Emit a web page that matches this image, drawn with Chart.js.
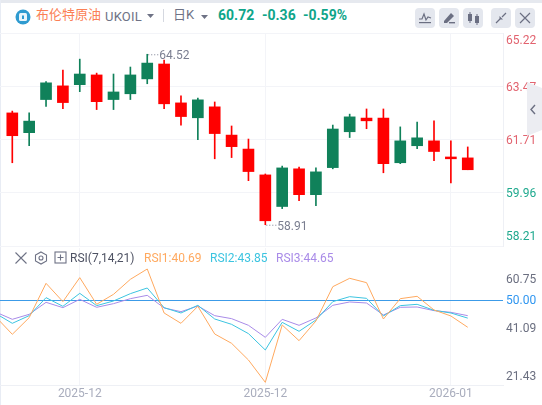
<!DOCTYPE html>
<html>
<head>
<meta charset="utf-8">
<script src="https://cdn.jsdelivr.net/npm/chart.js@4"></script>
<style>
  html, body { margin: 0; padding: 0; background: #fff; }
  body { width: 542px; height: 405px; position: relative; overflow: hidden; font-family: Roboto, "Noto Sans CJK SC", sans-serif; }
  canvas { position: absolute; left: 0; }
  .abs { position: absolute; white-space: nowrap; line-height: 16px; }
  .btn { position: absolute; top: 8px; width: 20px; height: 20px; border-radius: 4px; background: #e4e7ee; }
  .btn svg { display: block; }
</style>
</head>
<body>
<div class="abs" style="left:0;top:0;width:542px;height:2.5px;background:#e6e9ef"></div>
<div class="abs" style="left:0;top:0;width:1px;height:405px;background:#e8ecf4"></div>

<svg class="abs" style="left:15px;top:9px" width="16" height="16"><circle cx="8" cy="8" r="7.5" fill="#2f9bd0"/><rect x="4" y="4" width="8" height="8" rx="1.5" fill="#eaf5fb"/><rect x="7" y="6.5" width="2" height="3.5" fill="#2f9bd0"/></svg>
<div class="abs" style="left:36px;top:7px;font-size:13px;color:#fb7f55">布伦特原油</div>
<div class="abs" style="left:105px;top:9px;font-size:13px;letter-spacing:0.2px;color:#6e7285">UKOIL</div>
<svg class="abs" style="left:147px;top:14px" width="8" height="5"><path d="M0 0H7L3.5 4Z" fill="#6e7285"/></svg>
<div class="abs" style="left:163px;top:9px;width:1px;height:13px;background:#d5d8e0"></div>
<div class="abs" style="left:173px;top:7px;font-size:13px;color:#6e7285">日K</div>
<svg class="abs" style="left:201px;top:15px" width="8" height="5"><path d="M0 0H7L3.5 4Z" fill="#6e7285"/></svg>
<div class="abs" style="left:218px;top:7px;font-size:14px;font-weight:700;color:#0fa58a">60.72</div>
<div class="abs" style="left:262px;top:7px;font-size:14px;font-weight:700;color:#0fa58a">-0.36</div>
<div class="abs" style="left:303px;top:7px;font-size:14px;font-weight:700;color:#0fa58a">-0.59%</div>

<div class="btn" style="left:415px"><svg width="20" height="20"><path d="M4 11L7 11L9 6L11 12L13 9L16 10" fill="none" stroke="#6b6f82" stroke-width="1.2"/><rect x="4" y="14" width="12" height="1.2" fill="#6b6f82"/></svg></div>
<div class="btn" style="left:439px"><svg width="20" height="20"><path d="M5 13L12 5L15 8L8 15H5Z" fill="#6b6f82"/><rect x="10" y="14" width="6" height="1.4" fill="#6b6f82"/></svg></div>
<div class="btn" style="left:463px"><svg width="20" height="20"><rect x="5" y="6" width="4" height="7" fill="#6b6f82"/><rect x="6.5" y="4" width="1" height="11" fill="#6b6f82"/><rect x="12" y="8" width="4" height="7" fill="#6b6f82"/><rect x="13.5" y="6" width="1" height="11" fill="#6b6f82"/></svg></div>
<div class="btn" style="left:491px"><svg width="20" height="20"><path d="M15 5L11 9M5 15L9 11" stroke="#6b6f82" stroke-width="1.2"/><path d="M8.5 8V11.5H12Z" fill="#6b6f82"/></svg></div>
<div class="btn" style="left:515px"><svg width="20" height="20"><path d="M5 5L15 15M15 5L5 15" stroke="#6b6f82" stroke-width="1.2"/></svg></div>

<canvas id="priceChart" width="542" height="248" style="top:0"></canvas>
<canvas id="rsiChart" width="542" height="158" style="top:247px"></canvas>

<svg class="abs" style="left:527px;top:82px" width="15" height="54"><path d="M0 0L15 6V48L0 54Z" fill="#ecedf2"/><path d="M8 23L4 27.5L8 32" fill="none" stroke="#6b6f82" stroke-width="1.4"/></svg>

<svg class="abs" style="left:14px;top:251px" width="14" height="14"><path d="M1.5 1.5L12.5 12.5M12.5 1.5L1.5 12.5" stroke="#6e7285" stroke-width="1.1"/></svg>
<svg class="abs" style="left:34px;top:251px" width="14" height="14"><path d="M7 1L12.5 4V10L7 13L1.5 10V4Z" fill="none" stroke="#6e7285" stroke-width="1.1"/><circle cx="7" cy="7" r="2" fill="none" stroke="#6e7285" stroke-width="1.1"/></svg>
<svg class="abs" style="left:54px;top:251px" width="13" height="13"><rect x="1" y="1" width="11" height="11" fill="none" stroke="#6e7285" stroke-width="1.1"/><path d="M6.5 3.5V9.5M3.5 6.5H9.5" stroke="#6e7285" stroke-width="1.1"/></svg>
<div class="abs" style="left:70px;top:250px;font-size:12px;color:#4e5263">RSI(7,14,21)</div>
<div class="abs" style="left:144px;top:250px;font-size:12px;color:#ffa95f">RSI1:40.69</div>
<div class="abs" style="left:210px;top:250px;font-size:12px;color:#3cc4e0">RSI2:43.85</div>
<div class="abs" style="left:276px;top:250px;font-size:12px;color:#a98be8">RSI3:44.65</div>

<script>
// candles, index 0 is the leftmost one
const opens  = [62.59,61.94,63.03,63.48,63.52,63.84,63.03,63.22,63.71,64.20,62.92,62.43,62.79,61.86,61.40,60.55,59.51,60.75,59.90,60.79,61.97,62.42,62.42,60.95,61.51,61.67,61.14,61.11];
const highs  = [62.65,62.59,63.62,64.00,64.36,63.90,63.87,64.10,64.52,64.33,63.15,63.08,62.95,62.16,61.73,60.58,60.84,60.81,60.78,62.19,62.55,62.72,62.72,62.13,62.29,62.33,61.67,61.47];
const lows   = [60.95,61.51,62.80,62.73,63.29,62.70,62.70,63.03,63.55,62.73,62.19,61.71,61.08,61.12,60.36,58.91,59.44,59.70,59.54,60.75,61.78,62.07,60.62,60.92,61.41,61.02,60.29,60.72];
const closes = [61.84,62.32,63.58,62.93,63.87,62.96,63.28,63.84,64.23,62.89,62.47,63.02,61.91,61.48,60.66,59.04,60.78,59.90,60.65,62.06,62.46,62.33,60.92,61.67,61.77,61.32,61.08,60.72];

// RSI starts one day before the first candle
const rsi1 = [44.4,38.27,44.01,55.85,49.53,57.81,48.61,52.06,57.23,60.79,45.62,42.06,47.92,38.38,35.16,29.41,21.71,41.48,36.08,42.86,54.70,57.58,56.08,43.55,50.56,51.37,46.66,44.59,40.69];
const rsi2 = [45.5,42.06,44.70,50.91,47.92,52.40,48.15,49.76,52.29,54.24,47.46,45.62,48.27,43.55,41.71,38.50,32.86,42.40,39.30,43.21,49.53,51.25,50.68,44.59,48.15,48.61,46.54,45.62,43.85];
const rsi3 = [45.97,43.44,45.16,49.30,47.46,50.33,47.58,48.84,50.56,51.71,47.35,46.08,48.03,44.70,43.67,41.37,37.23,43.44,41.37,43.90,48.27,49.42,49.07,44.93,47.58,47.69,46.43,45.85,44.70];

const priceTicks = [65.22,63.47,61.71,59.96,58.21];
const rsiTicks = [60.75,50.00,41.09,21.43];
const dateTickIdx = [4,15,26];
const dateTickLabels = ['2025-12','2025-12','2026-01'];
const maxMark = { idx: 8, value: 64.52 };
const minMark = { idx: 15, value: 58.91 };

const FONT = 'Roboto, "Noto Sans", sans-serif';
const UP = '#10815a', DOWN = '#ff0000';
const gridColor = '#f3f4f8';
const xRange = { min: -0.729, max: 29.09 };

const candleColors = closes.map((c, i) => c >= opens[i] ? UP : DOWN);

function xScale(extra) {
    return Object.assign({
        type: 'linear', min: xRange.min, max: xRange.max, offset: false,
        afterBuildTicks: s => { s.ticks = dateTickIdx.map(v => ({ value: v })); },
        grid: { offset: false, color: gridColor, lineWidth: 1, drawTicks: false }
    }, extra);
}

// the value labels are written by hand, the outer ones sit inside the pane
const priceLabels = {
    id: 'priceLabels',
    afterDraw(chart) {
        const { ctx, chartArea, scales } = chart;
        ctx.save();
        ctx.font = '12px ' + FONT;
        ctx.textBaseline = 'middle';
        priceTicks.forEach(v => {
            let y = scales.y.getPixelForValue(v) + 1.5;
            y = Math.min(Math.max(y, chartArea.top + 8), chartArea.bottom - 9);
            ctx.fillStyle = v > 61 ? '#e2636f' : '#1fa98e';
            ctx.fillText(v.toFixed(2), 506, y);
        });

        // max / min marks
        ctx.fillStyle = '#7a7e90';
        ctx.strokeStyle = '#7a7e90';
        [maxMark, minMark].forEach(m => {
            const x = scales.x.getPixelForValue(m.idx);
            const y = scales.y.getPixelForValue(m.value);
            ctx.setLineDash([1, 2]);
            ctx.beginPath();
            ctx.moveTo(x + 1, y + 0.5);
            ctx.lineTo(x + 11, y + 0.5);
            ctx.stroke();
            ctx.fillText(m.value.toFixed(2), x + 12, y + 2);
        });
        ctx.restore();
    }
};

const rsiLabels = {
    id: 'rsiLabels',
    afterDraw(chart) {
        const { ctx, scales } = chart;
        const nudge = { 60.75: 11, 50: 0.5, 41.09: 3, 21.43: -6.5 };
        ctx.save();
        ctx.font = '12px ' + FONT;
        ctx.textBaseline = 'middle';
        rsiTicks.forEach(v => {
            ctx.fillStyle = v === 50 ? '#2f96f0' : '#6b6f80';
            ctx.fillText(v.toFixed(2), 506, scales.y.getPixelForValue(v) + nudge[v]);
        });
        ctx.restore();
    }
};

new Chart(document.getElementById('priceChart').getContext('2d'), {
    type: 'bar',
    data: {
        datasets: [
            {
                data: highs.map((h, i) => ({ x: i, y: [lows[i], h] })),
                backgroundColor: candleColors, barThickness: 1, order: 2
            },
            {
                data: opens.map((o, i) => ({ x: i, y: [o, closes[i]] })),
                backgroundColor: candleColors, barThickness: 11, order: 1
            }
        ]
    },
    options: {
        responsive: false, animation: false,
        layout: { padding: { left: 0, right: 39, top: 33, bottom: 2 } },
        plugins: { legend: { display: false }, tooltip: { enabled: false } },
        datasets: { bar: { grouped: false } },
        scales: {
            x: xScale({ ticks: { display: false }, border: { display: false }, afterFit: s => { s.height = 0; } }),
            y: {
                position: 'right', min: 58.21, max: 65.22,
                afterBuildTicks: s => { s.ticks = priceTicks.map(v => ({ value: v })); },
                ticks: { display: false },
                grid: { color: gridColor, drawTicks: false },
                border: { display: true, color: '#eef0f5' },
                afterFit: s => { s.width = 0; }
            }
        }
    },
    plugins: [priceLabels]
});

const rsiLine = (values, color) => ({
    data: values.map((v, i) => ({ x: i - 1, y: v })),
    borderColor: color, borderWidth: 1, pointRadius: 0, tension: 0, fill: false
});

new Chart(document.getElementById('rsiChart').getContext('2d'), {
    type: 'line',
    data: {
        datasets: [
            rsiLine(rsi1, '#ffa95f'),
            rsiLine(rsi2, '#3cc4e0'),
            rsiLine(rsi3, '#a98be8')
        ]
    },
    options: {
        responsive: false, animation: false,
        layout: { padding: { left: 0, right: 39, top: 1, bottom: 0 } },
        plugins: { legend: { display: false }, tooltip: { enabled: false } },
        scales: {
            x: xScale({
                ticks: {
                    autoSkip: false, maxRotation: 0, padding: 2, color: '#a9adbd',
                    font: { family: FONT, size: 12 },
                    callback: v => dateTickLabels[dateTickIdx.indexOf(v)]
                },
                border: { display: true, color: '#eef0f5' },
                afterFit: s => { s.height = 20; }
            }),
            y: {
                position: 'right', min: 20.79, max: 68.03,
                afterBuildTicks: s => { s.ticks = rsiTicks.map(v => ({ value: v })); },
                ticks: { display: false },
                grid: { drawTicks: false, color: c => c.tick && c.tick.value === 50 ? '#3c9be8' : 'rgba(0,0,0,0)' },
                border: { display: false },
                afterFit: s => { s.width = 0; }
            }
        }
    },
    plugins: [rsiLabels]
});
</script>
</body>
</html>
